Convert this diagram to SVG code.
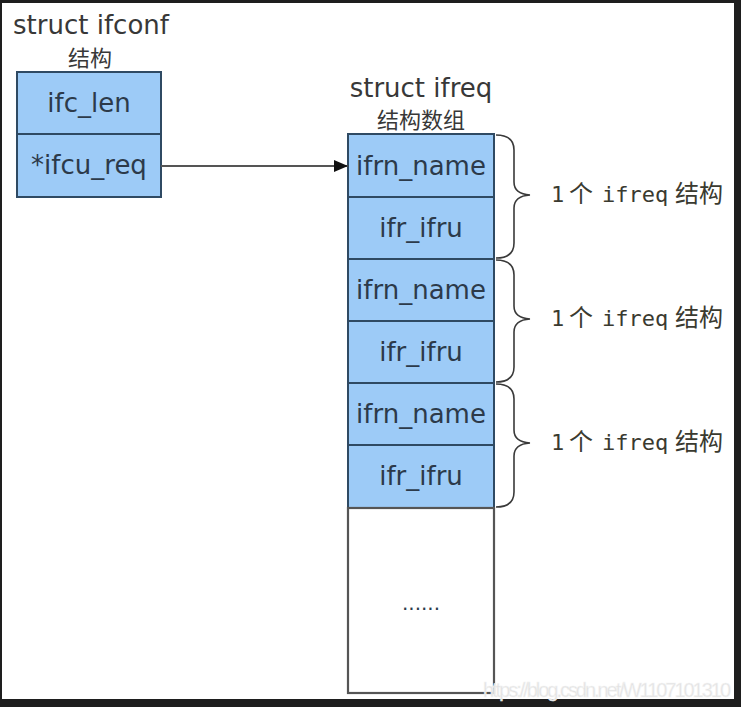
<svg xmlns="http://www.w3.org/2000/svg" width="741" height="707" viewBox="0 0 741 707">
<style>
.hdr{font-family:"DejaVu Sans","Noto Sans CJK SC",sans-serif;font-size:26px;fill:#383838;text-anchor:middle}
.cjk{font-family:"Noto Sans CJK SC","DejaVu Sans",sans-serif;font-size:22px;fill:#383838;text-anchor:middle}
.cell{fill:#9dcbf7;stroke:#2f4a63;stroke-width:2}
.ct{font-family:"DejaVu Sans",sans-serif;font-size:26px;fill:#2c3a4a;text-anchor:middle}
.brace{fill:none;stroke:#3a3a3a;stroke-width:1.6}
.lbl{font-family:"DejaVu Sans Mono","Noto Sans CJK SC",monospace;font-size:22px;fill:#3a3a30}
.lblc{font-family:"Noto Sans CJK SC",sans-serif;font-size:24px;fill:#3a3a30}
</style>
<defs>
<marker id="ah" markerWidth="14" markerHeight="12" refX="14" refY="6" orient="auto" markerUnits="userSpaceOnUse">
<path d="M0,0 L14,6 L0,12 Z" fill="#111"/>
</marker>
</defs>
<rect x="0" y="0" width="741" height="707" fill="#1e1e1e"/>
<rect x="2" y="3" width="732" height="696" fill="#ffffff"/>

<g id="ifconf">
<text class="hdr" x="91" y="34">struct ifconf</text>
<text class="cjk" x="90" y="66">结构</text>
<rect class="cell" x="17" y="72" width="144" height="62"/>
<rect class="cell" x="17" y="134" width="144" height="63"/>
<text class="ct" x="89" y="112">ifc_len</text>
<text class="ct" x="89" y="174">*ifcu_req</text>
</g>

<g id="ifreq">
<text class="hdr" x="421" y="97">struct ifreq</text>
<text class="cjk" x="421" y="128">结构数组</text>
<rect class="cell" x="348" y="134" width="146" height="63"/>
<rect class="cell" x="348" y="197" width="146" height="62"/>
<rect class="cell" x="348" y="259" width="146" height="62"/>
<rect class="cell" x="348" y="321" width="146" height="62"/>
<rect class="cell" x="348" y="383" width="146" height="62"/>
<rect class="cell" x="348" y="445" width="146" height="63"/>
<rect x="348" y="508" width="146" height="185" fill="#ffffff" stroke="#555" stroke-width="2.2"/>
<text class="ct" x="421" y="175">ifrn_name</text>
<text class="ct" x="421" y="237">ifr_ifru</text>
<text class="ct" x="421" y="299">ifrn_name</text>
<text class="ct" x="421" y="361">ifr_ifru</text>
<text class="ct" x="421" y="423">ifrn_name</text>
<text class="ct" x="421" y="485">ifr_ifru</text>
<text class="ct" x="421" y="610" style="font-size:20px">......</text>
</g>

<g id="braces">
<path class="brace" d="M496,135 Q514,135 514,150 L514,182 Q514,194 530,195 Q514,196 514,208 L514,243 Q514,258 496,258"/>
<path class="brace" d="M496,260 Q514,260 514,275 L514,306 Q514,318 530,319 Q514,320 514,332 L514,367 Q514,382 496,382"/>
<path class="brace" d="M496,384 Q514,384 514,399 L514,430 Q514,442 530,443 Q514,444 514,456 L514,492 Q514,507 496,507"/>
</g>

<g id="labels">
<text y="202"><tspan class="lbl" x="551">1</tspan><tspan class="lblc" x="569">个</tspan><tspan class="lbl" x="602">ifreq</tspan><tspan class="lblc" x="675">结构</tspan></text>
<text y="326"><tspan class="lbl" x="551">1</tspan><tspan class="lblc" x="569">个</tspan><tspan class="lbl" x="602">ifreq</tspan><tspan class="lblc" x="675">结构</tspan></text>
<text y="450"><tspan class="lbl" x="551">1</tspan><tspan class="lblc" x="569">个</tspan><tspan class="lbl" x="602">ifreq</tspan><tspan class="lblc" x="675">结构</tspan></text>
</g>

<g id="connectors">
<line x1="161" y1="166" x2="348" y2="166" stroke="#555" stroke-width="2" marker-end="url(#ah)"/>
</g>

<text x="483" y="697" font-family="Liberation Sans, sans-serif" font-size="20" fill="#e2e2e2" stroke="#f4f4f4" stroke-width="0.5" textLength="248">https://blog.csdn.net/W1107101310</text>
</svg>
